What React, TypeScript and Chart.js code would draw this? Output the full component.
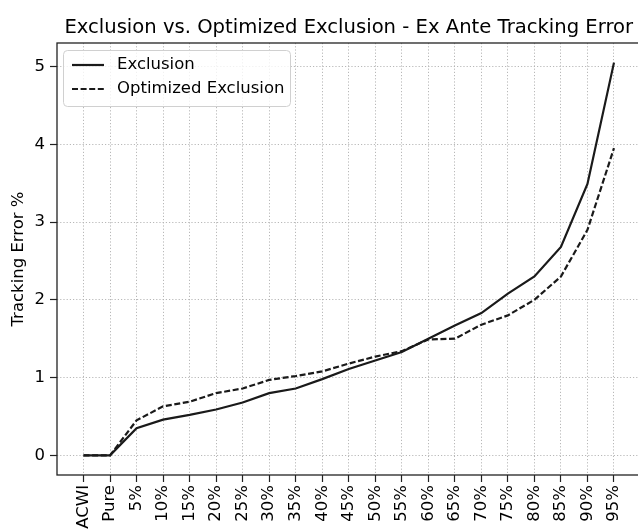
import { useEffect, useRef } from "react";
import { Chart, registerables } from "chart.js";

Chart.register(...registerables);

// Portfolio variants along the x axis
const categories = [
  "ACWI", "Pure", "5%", "10%", "15%", "20%", "25%", "30%", "35%", "40%",
  "45%", "50%", "55%", "60%", "65%", "70%", "75%", "80%", "85%", "90%", "95%",
];

// Ex ante tracking error, in percent
const exclusion = [
  0, 0, 0.35, 0.46, 0.52, 0.59, 0.68, 0.8, 0.86, 0.98,
  1.11, 1.22, 1.33, 1.5, 1.67, 1.83, 2.08, 2.3, 2.68, 3.49, 5.05,
];
const optimizedExclusion = [
  0, 0, 0.45, 0.63, 0.69, 0.8, 0.86, 0.97, 1.02, 1.08,
  1.18, 1.27, 1.34, 1.49, 1.5, 1.68, 1.8, 2.0, 2.3, 2.9, 3.95,
];

const yTicks = [0, 1, 2, 3, 4, 5];
const seriesNames = ["Exclusion", "Optimized Exclusion"];
const chartTitle = "Exclusion vs. Optimized Exclusion - Ex Ante Tracking Error";
const yAxisTitle = "Tracking Error %";

const FONT = "'DejaVu Sans', sans-serif";
const LABEL_SIZE = 16.5;
const TITLE_SIZE = 19.6;
const INK = "#1a1a1a";
const CANVAS_W = 660;
const CANVAS_H = 530;

export default function App() {
  const canvasRef = useRef<HTMLCanvasElement | null>(null);

  useEffect(() => {
    const canvas = canvasRef.current;
    if (!canvas) return;

    const all = [...exclusion, ...optimizedExclusion];
    const lo = Math.min(...all);
    const hi = Math.max(...all);
    const margin = (hi - lo) * 0.05;

    const frameAndText = {
      id: "frameAndText",
      afterDatasetsDraw(chart: any) {
        const { ctx, chartArea } = chart;
        const { left, top, right, bottom } = chartArea;
        ctx.save();

        // axes frame
        ctx.strokeStyle = "#222";
        ctx.lineWidth = 1.3;
        ctx.setLineDash([]);
        ctx.strokeRect(left, top, right - left, bottom - top);

        // title
        ctx.fillStyle = "#000";
        ctx.font = `${TITLE_SIZE}px ${FONT}`;
        ctx.textAlign = "center";
        ctx.textBaseline = "alphabetic";
        ctx.fillText(chartTitle, (left + right) / 2, 33);

        // y axis title
        ctx.save();
        ctx.translate(19, (top + bottom) / 2);
        ctx.rotate(-Math.PI / 2);
        ctx.font = `${LABEL_SIZE}px ${FONT}`;
        ctx.textAlign = "center";
        ctx.textBaseline = "middle";
        ctx.fillText(yAxisTitle, 0, 0);
        ctx.restore();

        // legend
        const bx = left + 6;
        const by = top + 7;
        const bw = 227;
        const bh = 56;
        ctx.beginPath();
        ctx.roundRect(bx + 0.5, by + 0.5, bw, bh, 4);
        ctx.fillStyle = "rgba(255,255,255,0.8)";
        ctx.fill();
        ctx.strokeStyle = "#d0d0d0";
        ctx.lineWidth = 1;
        ctx.stroke();

        chart.data.datasets.forEach((ds: any, i: number) => {
          const y = by + 15 + i * 24;
          ctx.beginPath();
          ctx.setLineDash(ds.borderDash || []);
          ctx.strokeStyle = ds.borderColor;
          ctx.lineWidth = ds.borderWidth;
          ctx.moveTo(bx + 9, y);
          ctx.lineTo(bx + 41, y);
          ctx.stroke();
          ctx.setLineDash([]);
          ctx.fillStyle = "#000";
          ctx.font = `${LABEL_SIZE}px ${FONT}`;
          ctx.textAlign = "left";
          ctx.textBaseline = "middle";
          ctx.fillText(ds.label, bx + 54, y);
        });

        ctx.restore();
      },
    };

    const gridBase = {
      color: "rgba(176,176,176,0.9)",
      lineWidth: 1,
      drawTicks: true,
      tickLength: 7,
      tickColor: "#222",
      tickWidth: 1.2,
      tickBorderDash: [],
    };

    const chart = new Chart(canvas, {
      type: "line",
      data: {
        datasets: [
          {
            label: seriesNames[0],
            data: exclusion.map((v, i) => ({ x: i, y: v })),
            borderColor: INK,
            borderWidth: 2.2,
            pointRadius: 0,
            tension: 0,
            fill: false,
          },
          {
            label: seriesNames[1],
            data: optimizedExclusion.map((v, i) => ({ x: i, y: v })),
            borderColor: INK,
            borderWidth: 2.2,
            borderDash: [6, 2.6],
            pointRadius: 0,
            tension: 0,
            fill: false,
          },
        ],
      },
      options: {
        animation: false,
        responsive: false,
        maintainAspectRatio: false,
        devicePixelRatio: 1,
        layout: { padding: { left: 0, top: 43, right: 19.5, bottom: 0 } },
        plugins: {
          legend: { display: false },
          title: { display: false },
          tooltip: { enabled: false },
        },
        scales: {
          x: {
            type: "linear",
            min: -1,
            max: categories.length,
            afterBuildTicks: (axis: any) => {
              axis.ticks = categories.map((_, i) => ({ value: i }));
            },
            afterFit: (axis: any) => {
              axis.height = 55;
            },
            ticks: {
              autoSkip: false,
              minRotation: 90,
              maxRotation: 90,
              padding: 3,
              color: "#000",
              font: { family: FONT, size: LABEL_SIZE },
              callback: (value: any) => categories[Math.round(Number(value))] ?? "",
            },
            grid: gridBase,
            border: { display: false, dash: [1.2, 2] },
          },
          y: {
            type: "linear",
            min: lo - margin,
            max: hi + margin,
            afterBuildTicks: (axis: any) => {
              axis.ticks = yTicks.map((v) => ({ value: v }));
            },
            afterFit: (axis: any) => {
              axis.width = 57;
            },
            ticks: {
              padding: 5,
              color: "#000",
              font: { family: FONT, size: LABEL_SIZE },
              callback: (value: any) => String(value),
            },
            grid: gridBase,
            border: { display: false, dash: [1.2, 2] },
          },
        },
      },
      plugins: [frameAndText],
    } as any);

    return () => chart.destroy();
  }, []);

  return (
    <div
      style={{
        position: "fixed",
        left: 0,
        top: 0,
        width: 638,
        height: 530,
        overflow: "hidden",
        background: "#fff",
      }}
    >
      <canvas
        ref={canvasRef}
        width={CANVAS_W}
        height={CANVAS_H}
        style={{ display: "block", width: CANVAS_W, height: CANVAS_H }}
      />
    </div>
  );
}
